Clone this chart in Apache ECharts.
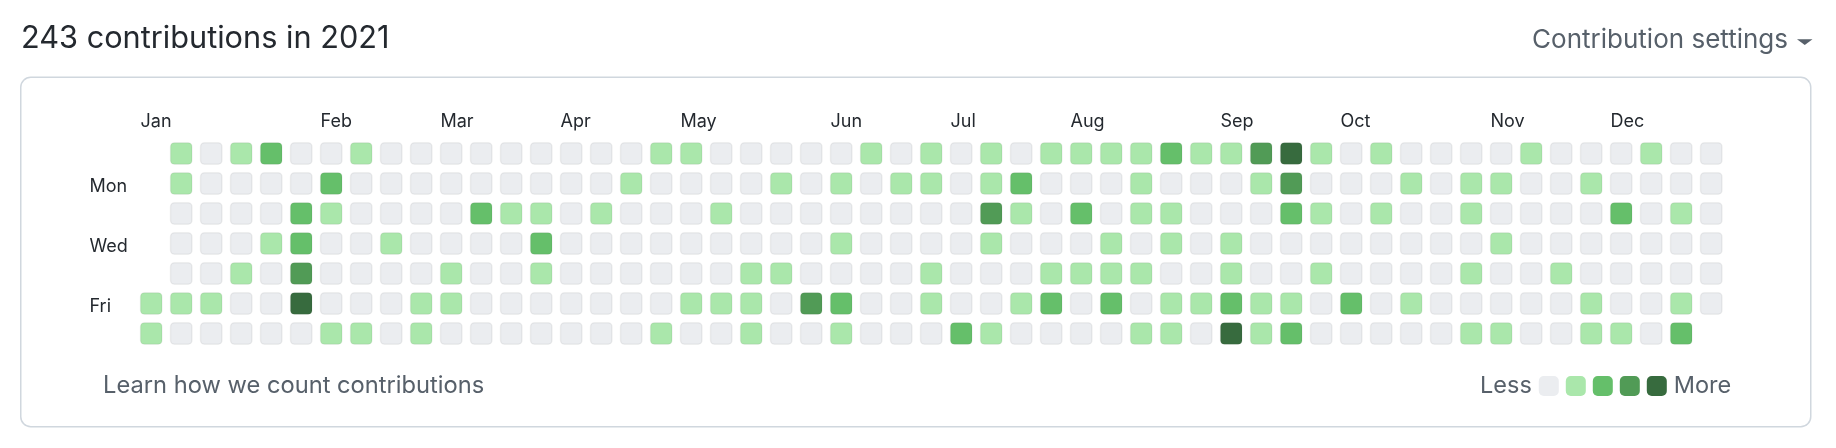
<!DOCTYPE html>
<html>
<head>
<meta charset="utf-8">
<script src="https://cdn.jsdelivr.net/npm/echarts@6/dist/echarts.min.js"></script>
<style>html,body{margin:0;padding:0;background:#fff;}#c{width:1836px;height:448px;}</style>
</head>
<body>
<div id="c"></div>
<script>
// Contribution levels (0-4) per weekday row, one entry per week column (53 weeks of 2021); null = outside the year
const sun = [null,1,0,1,2,0,0,1,0,0, 0,0,0,0,0,0,0,1,1,0, 0,0,0,0,1,0,1,0,1,0, 1,1,1,1,2,1,1,3,4,1, 0,1,0,0,0,0,1,0,0,0, 1,0,0];
const mon = [null,1,0,0,0,0,2,0,0,0, 0,0,0,0,0,0,1,0,0,0, 0,1,0,1,0,1,1,0,1,2, 0,0,0,1,0,0,0,1,3,0, 0,0,1,0,1,1,0,0,1,0, 0,0,0];
const tue = [null,0,0,0,0,2,1,0,0,0, 0,2,1,1,0,1,0,0,0,1, 0,0,0,0,0,0,0,0,3,1, 0,2,0,1,1,0,0,0,2,1, 0,1,0,0,1,0,0,0,0,2, 0,1,0];
const wed = [null,0,0,0,1,2,0,0,1,0, 0,0,0,2,0,0,0,0,0,0, 0,0,0,1,0,0,0,0,1,0, 0,0,1,0,1,0,1,0,0,0, 0,0,0,0,0,1,0,0,0,0, 0,0,0];
const thu = [null,0,0,1,0,3,0,0,0,0, 1,0,0,1,0,0,0,0,0,0, 1,1,0,0,0,0,1,0,0,0, 1,1,1,1,0,0,1,0,0,1, 0,0,0,0,1,0,0,1,0,0, 0,0,0];
const fri = [1,1,1,0,0,4,0,0,0,1, 1,0,0,0,0,0,0,0,1,1, 1,0,3,2,0,0,1,0,0,1, 2,0,2,0,1,1,2,1,1,0, 2,0,1,0,0,0,0,0,1,0, 0,1,0];
const sat = [1,0,0,0,0,0,1,1,0,1, 0,0,0,0,0,0,0,1,0,0, 1,0,0,1,0,0,0,2,1,0, 0,0,0,1,1,0,4,1,2,0, 0,0,0,0,1,1,0,0,1,1, 0,2,null];

// Axis categories and tick labels
const weekdays = ['Sun','Mon','Tue','Wed','Thu','Fri','Sat'];
const dayLabels = ['', 'Mon', '', 'Wed', '', 'Fri', ''];
const monthNames = ['Jan','Feb','Mar','Apr','May','Jun','Jul','Aug','Sep','Oct','Nov','Dec'];
const monthStartWeeks = [0,6,10,14,18,23,27,31,36,40,45,49];
const levelColors = ['#ebedf0','#aae7ab','#65bf6a','#519b56','#376b3e'];

const rows = [sun, mon, tue, wed, thu, fri, sat];
const weeks = sun.map((_, i) => String(i));
const cells = [];
rows.forEach((row, d) => row.forEach((v, w) => { if (v !== null) cells.push([w, d, v]); }));

const FONT = 'Inter, "Noto Sans", sans-serif';
const chart = echarts.init(document.getElementById('c'), null, {renderer: 'canvas'});
chart.setOption({
  backgroundColor: '#ffffff',
  animation: false,
  grid: {left: 140.5, width: 1560, top: 138.5, height: 210},
  xAxis: {
    type: 'category', position: 'top', data: weeks, boundaryGap: false,
    axisLine: {show: false}, axisTick: {show: false}, splitLine: {show: false},
    axisLabel: {
      interval: (i) => monthStartWeeks.indexOf(i) >= 0,
      formatter: (v, i) => { const k = monthStartWeeks.indexOf(i); return k >= 0 ? monthNames[k] : ''; },
      align: 'left', margin: 7.5, color: '#24292f', fontSize: 18, fontFamily: FONT
    }
  },
  yAxis: {
    type: 'category', data: weekdays, inverse: true, boundaryGap: true,
    axisLine: {show: false}, axisTick: {show: false}, splitLine: {show: false},
    axisLabel: {
      interval: 0, formatter: (v, i) => dayLabels[i],
      align: 'left', verticalAlign: 'top', lineHeight: 6, margin: 51,
      color: '#24292f', fontSize: 18, fontFamily: FONT
    }
  },
  visualMap: {
    type: 'piecewise', dimension: 2, orient: 'horizontal',
    left: 1465, top: 359,
    pieces: levelColors.map((c, i) => ({value: i, color: c})),
    text: ['More', 'Less'], textGap: 7,
    itemWidth: 20, itemHeight: 20, itemGap: 7, itemSymbol: 'roundRect',
    selectedMode: false, hoverLink: false,
    textStyle: {color: '#57606a', fontSize: 23.5, fontFamily: FONT}
  },
  graphic: [
    {type: 'rect', silent: true, shape: {x: 20.75, y: 77.25, width: 1790, height: 349.5, r: 10},
     style: {fill: 'transparent', stroke: '#d0d7de', lineWidth: 1.5}},
    {type: 'text', silent: true, x: 21, y: 39,
     style: {text: '243 contributions in 2021', fill: '#24292f', font: '30.7px ' + FONT, textAlign: 'left', textVerticalAlign: 'middle'}},
    {type: 'text', silent: true, x: 1788, y: 40,
     style: {text: 'Contribution settings', fill: '#57606a', font: '26px ' + FONT, textAlign: 'right', textVerticalAlign: 'middle'}},
    {type: 'polygon', silent: true, shape: {points: [[1797, 39.3], [1812.5, 39.3], [1804.75, 45]]}, style: {fill: '#57606a'}},
    {type: 'text', silent: true, x: 103, y: 386,
     style: {text: 'Learn how we count contributions', fill: '#57606a', font: '23.7px ' + FONT, textAlign: 'left', textVerticalAlign: 'middle'}}
  ],
  series: [{
    type: 'custom',
    data: cells,
    renderItem: function (params, api) {
      const p = api.coord([api.value(0), api.value(1)]);
      const s = 21.5;
      return {
        type: 'rect',
        shape: {x: p[0], y: p[1] - s / 2, width: s, height: s, r: 4},
        style: {fill: api.visual('color'), stroke: 'rgba(27,31,35,0.06)', lineWidth: 1.5}
      };
    }
  }]
});
</script>
</body>
</html>
